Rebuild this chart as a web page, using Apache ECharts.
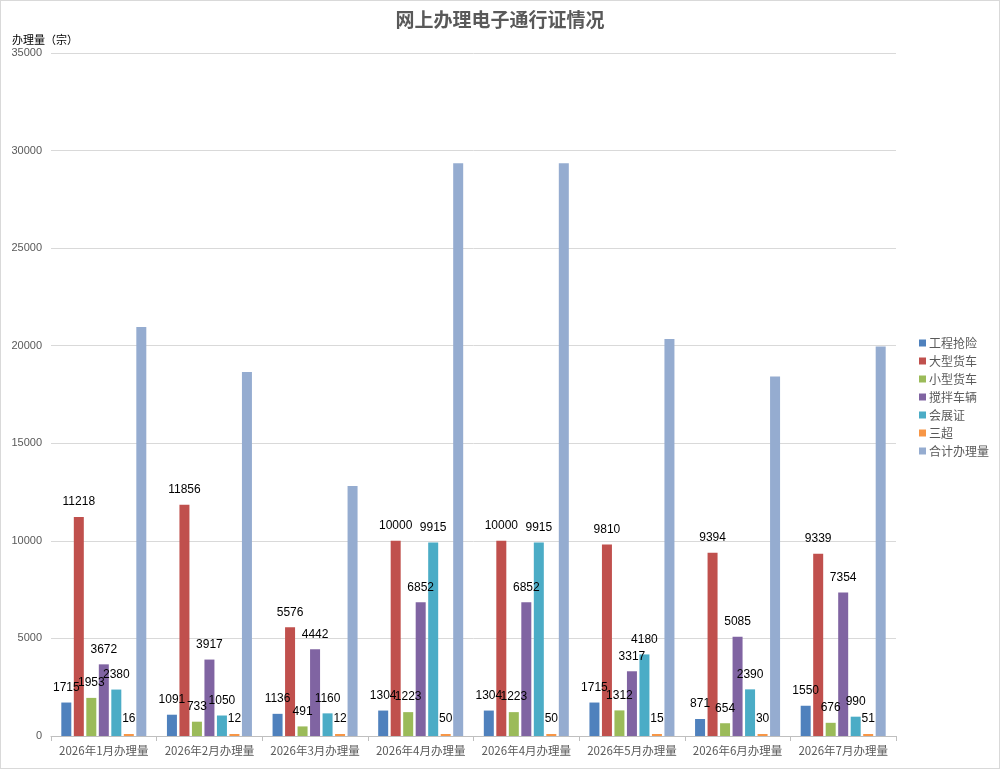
<!DOCTYPE html>
<html>
<head>
<meta charset="utf-8">
<script src="https://cdn.jsdelivr.net/npm/echarts@6/dist/echarts.min.js"></script>
<style>
  html, body { margin: 0; padding: 0; background: #fff; }
  #chart-container { width: 998px; height: 767px; border: 1px solid #d9d9d9; }
</style>
</head>
<body>
<div id="chart-container"></div>
<script>
const categories = ['2026年1月办理量', '2026年2月办理量', '2026年3月办理量', '2026年4月办理量',
  '2026年4月办理量', '2026年5月办理量', '2026年6月办理量', '2026年7月办理量'];

const seriesNames = ['工程抢险', '大型货车', '小型货车', '搅拌车辆', '会展证', '三超', '合计办理量'];

const engineering = [1715, 1091, 1136, 1304, 1304, 1715, 871, 1550];
const largeTruck = [11218, 11856, 5576, 10000, 10000, 9810, 9394, 9339];
const smallTruck = [1953, 733, 491, 1223, 1223, 1312, 654, 676];
const mixer = [3672, 3917, 4442, 6852, 6852, 3317, 5085, 7354];
const exhibition = [2380, 1050, 1160, 9915, 9915, 4180, 2390, 990];
const oversize = [16, 12, 12, 50, 50, 15, 30, 51];
const total = [20954, 18659, 12817, 29344, 29344, 20349, 18424, 19960];

const yTicks = { min: 0, max: 35000, interval: 5000 };

const colors = ['#4f81bd', '#c0504d', '#9bbb59', '#8064a2', '#4bacc6', '#f79646', '#95acd0'];

const dom = document.getElementById('chart-container');
const myChart = echarts.init(dom, null, { renderer: 'canvas' });

const labelStyle = {
  show: true,
  position: 'top',
  distance: 9,
  color: '#000',
  fontSize: 12,
  fontFamily: 'Liberation Sans',
};

const dataSets = [engineering, largeTruck, smallTruck, mixer, exhibition, oversize, total];

const series = dataSets.map((data, i) => ({
  name: seriesNames[i],
  type: 'bar',
  data: data,
  barWidth: 10,
  barGap: '25%',
  barMinHeight: i === 5 ? 2 : 0,
  itemStyle: { color: colors[i] },
  label: i === 6 ? { show: false } : labelStyle,
}));

const option = {
  animation: false,
  color: colors,
  title: [
    {
      text: '网上办理电子通行证情况',
      left: 'center',
      top: 4,
      textStyle: { fontFamily: 'Noto Sans CJK SC', fontSize: 19, fontWeight: 'bold', color: '#595959' },
    },
    {
      text: '办理量（宗）',
      left: 6,
      top: 28,
      textStyle: { fontFamily: 'Noto Sans CJK SC', fontSize: 11, fontWeight: 'normal', color: '#000' },
    },
  ],
  legend: {
    orient: 'vertical',
    left: 913,
    top: 331,
    itemWidth: 7,
    itemHeight: 7,
    itemGap: 6,
    icon: 'rect',
    textStyle: { fontFamily: 'Noto Sans CJK SC', fontSize: 12, color: '#595959', padding: [0, 0, 0, -2] },
    data: seriesNames,
  },
  grid: { left: 50, right: 103, top: 52, bottom: 32, containLabel: false },
  xAxis: {
    type: 'category',
    data: categories,
    axisLine: { lineStyle: { color: '#bfbfbf' } },
    axisTick: { show: true, length: 5, lineStyle: { color: '#bfbfbf' } },
    axisLabel: { color: '#595959', fontSize: 11.5, fontFamily: 'Noto Sans CJK SC', margin: 9, interval: 0 },
  },
  yAxis: {
    type: 'value',
    min: yTicks.min,
    max: yTicks.max,
    interval: yTicks.interval,
    axisLine: { show: false },
    axisTick: { show: false },
    axisLabel: {
      color: '#595959',
      fontSize: 11,
      fontFamily: 'Liberation Sans',
      margin: 9,
      formatter: (v) => String(v),
    },
    splitLine: { lineStyle: { color: '#d9d9d9' } },
  },
  series: series,
};

myChart.setOption(option);
window.addEventListener('resize', myChart.resize);
</script>
</body>
</html>
